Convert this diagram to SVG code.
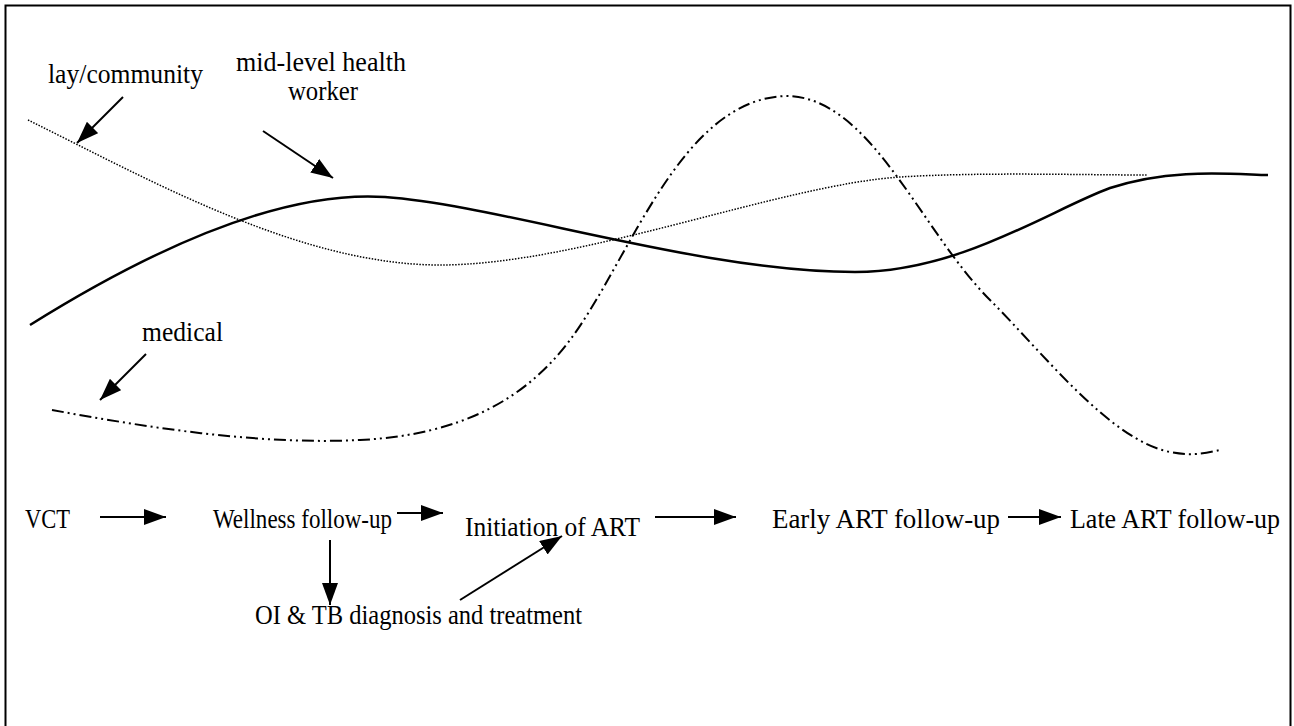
<svg xmlns="http://www.w3.org/2000/svg" width="1294" height="726" viewBox="0 0 1294 726">
<defs>
<style>
.t{font-family:"Liberation Serif","Times New Roman",serif;font-size:27px;fill:#000}
.b{font-size:28px}
.a{stroke:#000;stroke-width:2;fill:none;marker-end:url(#ah)}
.c{fill:none;stroke:#000}
</style>
<marker id="ah" viewBox="0 0 22 16" refX="22" refY="8" markerWidth="22" markerHeight="16" orient="auto" markerUnits="userSpaceOnUse"><path d="M0,0 L22,8 L0,16 z" fill="#000"/></marker>
</defs>
<rect width="1294" height="726" fill="#fff"/>
<path d="M5.5,726 V5.5 H1290.5 V726" fill="none" stroke="#000" stroke-width="2"/>
<g id="curves">
<path id="lay-curve" class="c" stroke-width="1.5" stroke-dasharray="1.5 1.5" d="M28,120 C150,180 300,265 440,265 C580,265 780,185 900,177 C980,172 1080,175 1148,175"/>
<path id="mid-curve" class="c" stroke-width="2.5" d="M30,325 C150,250 280,190 385,197 C500,205 700,272 855,272 C960,272 1050,210 1110,188 C1170,168 1230,174 1268,175"/>
<path id="med-curve" class="c" stroke-width="2" stroke-dasharray="12 4 2 4 2 4" d="M52,410 C150,428 260,445 360,440 C460,435 525,400 570,340 C630,260 680,100 785,96 C870,95 920,230 990,300 C1045,355 1110,440 1170,452 C1195,457 1210,452 1220,450"/>
</g>
<g id="labels">
<g id="lay"><text class="t" x="48" y="83" textLength="155" lengthAdjust="spacingAndGlyphs">lay/community</text></g>
<g id="mid"><text class="t" x="236" y="71" textLength="170" lengthAdjust="spacingAndGlyphs">mid-level health</text><text class="t" x="288" y="100" textLength="70" lengthAdjust="spacingAndGlyphs">worker</text></g>
<g id="medical"><text class="t" x="142" y="341" textLength="81" lengthAdjust="spacingAndGlyphs">medical</text></g>
</g>
<g id="nodes">
<g id="vct"><text class="t b" x="25" y="528" textLength="45" lengthAdjust="spacingAndGlyphs">VCT</text></g>
<g id="wellness"><text class="t b" x="213" y="528" textLength="179" lengthAdjust="spacingAndGlyphs">Wellness follow-up</text></g>
<g id="initiation"><text class="t b" x="465" y="536" textLength="175" lengthAdjust="spacingAndGlyphs">Initiation of ART</text></g>
<g id="early"><text class="t b" x="772" y="528" textLength="228" lengthAdjust="spacingAndGlyphs">Early ART follow-up</text></g>
<g id="late"><text class="t b" x="1070" y="528" textLength="210" lengthAdjust="spacingAndGlyphs">Late ART follow-up</text></g>
<g id="oitb"><text class="t b" x="255" y="624" textLength="327" lengthAdjust="spacingAndGlyphs">OI &amp; TB diagnosis and treatment</text></g>
</g>
<g id="connectors">
<line class="a" x1="123" y1="97" x2="77" y2="143"/>
<line class="a" x1="263" y1="131" x2="333" y2="178"/>
<line class="a" x1="146" y1="354" x2="100" y2="400"/>
<line class="a" x1="100" y1="517" x2="166" y2="517"/>
<line class="a" x1="397" y1="513" x2="443" y2="513"/>
<line class="a" x1="655" y1="517" x2="736" y2="517"/>
<line class="a" x1="1008" y1="517" x2="1061" y2="517"/>
<line class="a" x1="330" y1="540" x2="330" y2="605"/>
<line class="a" x1="460" y1="600" x2="562" y2="536"/>
</g>
</svg>
